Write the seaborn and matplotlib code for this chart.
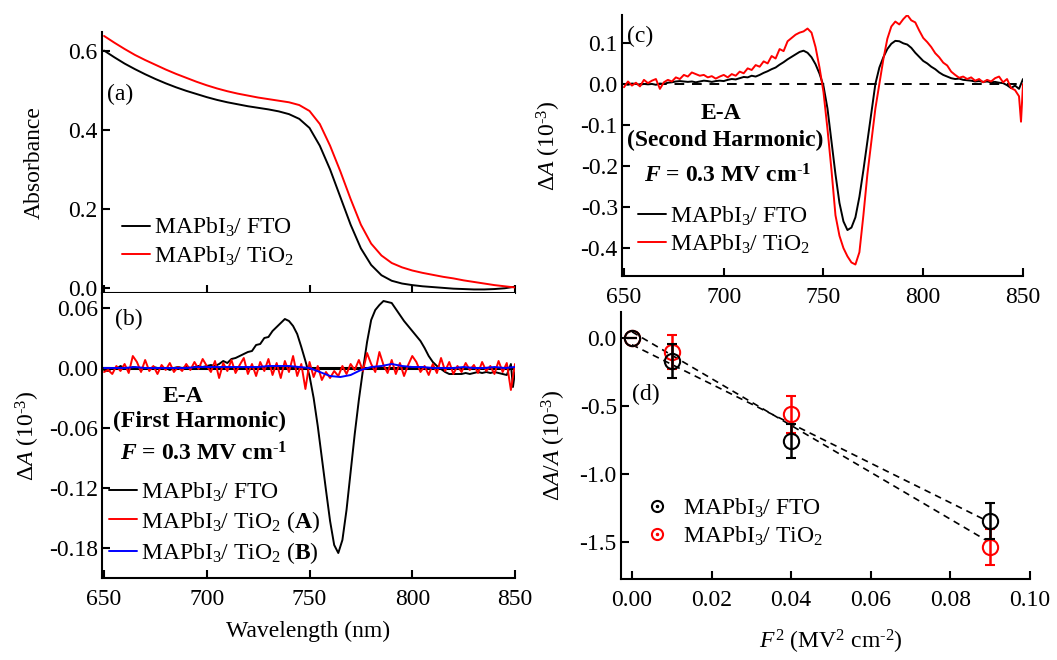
import numpy as np
import pandas as pd
import matplotlib
matplotlib.use('Agg')
import matplotlib.pyplot as plt
import seaborn as sns
from matplotlib.ticker import FormatStrFormatter, MultipleLocator
from matplotlib.lines import Line2D

# ---------------- data ----------------
# (a) absorbance, 5 nm grid
wl_a = np.arange(650, 851, 5)
abs_fto = [0.601, 0.584, 0.568, 0.554, 0.541, 0.529, 0.518, 0.508, 0.499, 0.491,
           0.483, 0.476, 0.470, 0.465, 0.460, 0.456, 0.452, 0.447, 0.440, 0.428,
           0.405, 0.360, 0.300, 0.230, 0.160, 0.100, 0.058, 0.032, 0.018, 0.011,
           0.007, 0.004, 0.002, 0.000, -0.002, -0.003, -0.004, -0.004, -0.003, -0.001,
           0.003]
abs_tio2 = [0.638, 0.621, 0.605, 0.590, 0.577, 0.565, 0.553, 0.542, 0.532, 0.522,
            0.513, 0.505, 0.498, 0.492, 0.487, 0.482, 0.478, 0.474, 0.470, 0.463,
            0.448, 0.415, 0.360, 0.295, 0.225, 0.160, 0.112, 0.082, 0.063, 0.052,
            0.044, 0.038, 0.033, 0.028, 0.024, 0.019, 0.015, 0.011, 0.007, 0.004,
            0.001]

# (b) first harmonic
wl_b_fto = list(range(650, 849, 2)) + [849, 850]
b_fto = [-0.002, -0.003, 0.000, -0.001, 0.002, 0.000, -0.001, 0.001, 0.000, -0.002,
         0.000, -0.001, 0.001, 0.000, -0.001, 0.000, -0.002, 0.000, 0.001, 0.000,
         0.001, 0.000, 0.001, 0.002, 0.001, 0.002, 0.003, 0.002, 0.004, 0.007,
         0.005, 0.009, 0.010, 0.012, 0.014, 0.016, 0.017, 0.023, 0.024, 0.030,
         0.031, 0.037, 0.041, 0.045, 0.049, 0.047, 0.042, 0.034, 0.021, 0.007,
         -0.008, -0.030, -0.058, -0.090, -0.122, -0.153, -0.177, -0.185, -0.172, -0.142,
         -0.104, -0.066, -0.032, -0.002, 0.026, 0.048, 0.058, 0.063, 0.067, 0.066,
         0.065, 0.059, 0.053, 0.047, 0.042, 0.037, 0.032, 0.027, 0.020, 0.012,
         0.006, 0.002, -0.001, -0.004, -0.006, -0.006, -0.006, -0.006, -0.005, -0.006,
         -0.005, -0.004, -0.005, -0.004, -0.005, -0.004, -0.005, -0.006, -0.007, 0.004,
         -0.019, -0.004]
wl_b_tio2a = list(range(650, 851, 2))
b_tio2a = [-0.004, -0.002, -0.006, 0.002, -0.003, 0.004, -0.005, 0.012, 0.006, -0.004,
           0.008, -0.003, 0.002, -0.006, 0.003, -0.002, 0.005, -0.004, 0.001, -0.003,
           0.004, -0.002, 0.006, -0.001, 0.009, 0.002, -0.004, 0.007, -0.010, 0.005,
           -0.003, 0.008, -0.005, 0.003, 0.010, -0.006, 0.004, -0.008, 0.006, -0.003,
           0.009, -0.007, 0.005, -0.010, 0.007, -0.004, 0.012, -0.008, 0.004, -0.021,
           0.006, -0.009, 0.002, -0.012, -0.004, -0.010, -0.003, -0.008, 0.002, -0.006,
           0.004, -0.002, 0.008, -0.003, 0.015, 0.004, -0.004, 0.016, 0.003, -0.005,
           0.008, -0.006, 0.005, -0.008, 0.003, 0.012, 0.006, -0.004, 0.002, -0.007,
           0.004, -0.005, 0.010, -0.003, 0.006, -0.006, 0.002, -0.004, 0.005, -0.002,
           0.003, -0.005, 0.006, -0.003, 0.002, -0.006, 0.007, -0.004, 0.005, -0.022,
           0.004]
wl_b_tio2b = list(range(650, 851, 5))
b_tio2b = [0.000, 0.000, 0.000, 0.001, 0.000, 0.000, 0.000, 0.000, 0.000, 0.001,
           0.001, 0.001, 0.001, 0.001, 0.001, 0.001, 0.002, 0.002, 0.002, 0.001,
           0.000, -0.004, -0.008, -0.009, -0.007, -0.002, 0.001, 0.002, 0.004, 0.002,
           0.001, 0.001, 0.000, 0.000, 0.000, 0.001, 0.000, 0.000, 0.001, 0.000,
           0.001]

# (c) second harmonic
wl_c_fto = list(range(650, 851, 2))
c_fto = [0.000, -0.002, 0.001, 0.000, -0.002, 0.000, -0.001, 0.000, -0.002, 0.001,
         0.000, 0.003, 0.004, 0.006, 0.007, 0.006, 0.005, 0.006, 0.004, 0.006,
         0.008, 0.007, 0.005, 0.007, 0.008, 0.007, 0.010, 0.012, 0.011, 0.014,
         0.017, 0.016, 0.020, 0.018, 0.022, 0.027, 0.031, 0.036, 0.040, 0.047,
         0.053, 0.060, 0.066, 0.072, 0.078, 0.081, 0.076, 0.065, 0.048, 0.025,
         -0.005, -0.060, -0.140, -0.220, -0.290, -0.335, -0.356, -0.350, -0.325, -0.275,
         -0.210, -0.140, -0.070, 0.000, 0.040, 0.065, 0.085, 0.098, 0.105, 0.104,
         0.099, 0.096, 0.088, 0.076, 0.066, 0.056, 0.050, 0.042, 0.036, 0.028,
         0.022, 0.018, 0.014, 0.012, 0.013, 0.010, 0.009, 0.008, 0.006, 0.007,
         0.005, 0.006, 0.004, 0.005, 0.003, 0.002, -0.003, -0.010, -0.004, -0.012,
         0.012]
wl_c_tio2 = list(range(650, 849, 2)) + [849, 850]
c_tio2 = [-0.008, 0.006, -0.004, 0.003, -0.006, 0.010, 0.002, 0.008, 0.012, -0.012,
          0.004, 0.010, 0.006, 0.016, 0.012, 0.022, 0.018, 0.028, 0.024, 0.020,
          0.022, 0.016, 0.019, 0.013, 0.018, 0.022, 0.016, 0.024, 0.020, 0.030,
          0.026, 0.038, 0.034, 0.046, 0.042, 0.055, 0.050, 0.068, 0.062, 0.085,
          0.080, 0.104, 0.112, 0.120, 0.125, 0.128, 0.135, 0.125, 0.090, 0.040,
          -0.020, -0.110, -0.210, -0.320, -0.370, -0.400, -0.420, -0.435, -0.440, -0.410,
          -0.320, -0.220, -0.140, -0.060, 0.000, 0.060, 0.110, 0.140, 0.152, 0.145,
          0.158, 0.168, 0.155, 0.150, 0.130, 0.112, 0.102, 0.090, 0.075, 0.065,
          0.052, 0.045, 0.030, 0.022, 0.015, 0.018, 0.012, 0.016, 0.008, 0.012,
          0.004, 0.010, 0.006, 0.014, 0.018, 0.004, 0.012, -0.010, -0.015, -0.030,
          -0.092, 0.000]

# (d) field dependence
f2 = [0.00, 0.01, 0.04, 0.09]
d_fto = [0.00, -0.167, -0.76, -1.345]
d_fto_err = [0.0, 0.125, 0.125, 0.13]
d_tio2 = [0.00, -0.105, -0.56, -1.535]
d_tio2_err = [0.0, 0.125, 0.135, 0.13]
fit_range = [0.0, 0.089]
fit_fto = (-14.5, -0.05)     # slope, intercept
fit_tio2 = (-17.2, 0.045)

lab_fto = r'MAPbI$_3$/ FTO'
lab_tio2 = r'MAPbI$_3$/ TiO$_2$'

# ---------------- style ----------------
sns.set_style('ticks')
FS = 17
plt.rcParams.update({
    'font.family': ['Liberation Serif', 'DejaVu Serif'],
    'mathtext.fontset': 'custom',
    'mathtext.rm': 'Liberation Serif',
    'mathtext.it': 'Liberation Serif:italic',
    'mathtext.bf': 'Liberation Serif:bold',
    'axes.unicode_minus': False,
    'font.size': FS,
    'axes.labelsize': FS,
    'xtick.labelsize': FS,
    'ytick.labelsize': FS,
    'axes.edgecolor': 'black',
    'xtick.color': 'black',
    'ytick.color': 'black',
    'text.color': 'black',
    'axes.labelcolor': 'black',
})
try:
    plt.rcParams['mathtext.bfit'] = 'Liberation Serif:italic:bold'
    F_TXT = r'$\mathbfit{F}$ = 0.3 MV cm$^{\mathbf{\text{-}1}}$'
except KeyError:
    F_TXT = r'$\mathit{F}$ = 0.3 MV cm$^{\mathbf{\text{-}1}}$'

W, H = 1057, 660
fig = plt.figure(figsize=(W / 100, H / 100), dpi=100)


def rect(l, t, r, b):
    return [l / W, 1 - b / H, (r - l) / W, (b - t) / H]


ax_a = fig.add_axes(rect(102, 32, 515, 293))
ax_b = fig.add_axes(rect(102, 293, 515, 578))
ax_c = fig.add_axes(rect(622, 15, 1023, 276))
ax_d = fig.add_axes(rect(621, 312, 1030, 579))


def style(ax, hide=('top', 'right')):
    for s in ['top', 'right', 'left', 'bottom']:
        ax.spines[s].set_visible(s not in hide)
        ax.spines[s].set_linewidth(1.5)
    ax.tick_params(direction='in', length=6, width=1.5, pad=3)
    ax.tick_params(axis='x', pad=8)


LW = 1.4
leg_kw = dict(frameon=False, fontsize=FS, handlelength=1.2, handletextpad=0.15,
              labelspacing=0.22, borderpad=0, borderaxespad=0)

# ---- (a)
sns.lineplot(x=wl_a, y=abs_fto, ax=ax_a, color='black', lw=LW, label=lab_fto, estimator=None)
sns.lineplot(x=wl_a, y=abs_tio2, ax=ax_a, color='red', lw=LW, label=lab_tio2, estimator=None)
style(ax_a)
ax_a.set_xlim(649, 850)
ax_a.set_ylim(-0.013, 0.648)
ax_a.xaxis.set_major_locator(MultipleLocator(50))
ax_a.yaxis.set_major_locator(MultipleLocator(0.2))
ax_a.yaxis.set_major_formatter(FormatStrFormatter('%.1f'))
ax_a.tick_params(axis='x', labelbottom=False)
ax_a.set_xlabel('')
ax_a.set_ylabel('Absorbance')
ax_a.yaxis.set_label_coords(-0.138, 0.5)
ax_a.text(0.011, 0.739, '(a)', transform=ax_a.transAxes, fontsize=FS, va='baseline')
ax_a.legend(loc='upper left', bbox_to_anchor=(0.048, 0.295), **leg_kw)

# ---- (b)
ax_b.axhline(0, color='black', lw=2.2, zorder=1)
sns.lineplot(x=wl_b_fto, y=b_fto, ax=ax_b, color='black', lw=LW, label=lab_fto, estimator=None)
sns.lineplot(x=wl_b_tio2a, y=b_tio2a, ax=ax_b, color='red', lw=LW,
             label=lab_tio2 + r' ($\mathbf{A}$)', estimator=None)
sns.lineplot(x=wl_b_tio2b, y=b_tio2b, ax=ax_b, color='blue', lw=LW,
             label=lab_tio2 + r' ($\mathbf{B}$)', estimator=None)
style(ax_b)
ax_b.set_xlim(649, 850)
ax_b.set_ylim(-0.210, 0.075)
ax_b.xaxis.set_major_locator(MultipleLocator(50))
ax_b.set_yticks([0.06, 0.0, -0.06, -0.12, -0.18])
ax_b.yaxis.set_major_formatter(FormatStrFormatter('%.2f'))
ax_b.set_xlabel('Wavelength (nm)')
ax_b.xaxis.set_label_coords(0.5, -0.15)
ax_b.set_ylabel(r'Δ$A$ (10$^{\text{-}3}$)')
ax_b.yaxis.set_label_coords(-0.145, 0.5)
ax_b.text(0.031, 0.888, '(b)', transform=ax_b.transAxes, fontsize=FS, va='baseline')
ax_b.text(0.195, 0.619, 'E-A', transform=ax_b.transAxes, fontsize=FS, fontweight='bold',
          ha='center', va='baseline')
ax_b.text(0.235, 0.531, '(First Harmonic)', transform=ax_b.transAxes, fontsize=FS,
          fontweight='bold', ha='center', va='baseline')
ax_b.text(0.246, 0.412, F_TXT, transform=ax_b.transAxes, fontsize=FS, fontweight='bold',
          ha='center', va='baseline')
ax_b.legend(loc='upper left', bbox_to_anchor=(0.017, 0.343), **leg_kw)

# ---- (c)
ax_c.axhline(0, color='black', lw=1.4, ls=(0, (5, 4)), zorder=1)
sns.lineplot(x=wl_c_fto, y=c_fto, ax=ax_c, color='black', lw=LW, label=lab_fto, estimator=None)
sns.lineplot(x=wl_c_tio2, y=c_tio2, ax=ax_c, color='red', lw=LW, label=lab_tio2, estimator=None)
style(ax_c)
ax_c.set_xlim(649, 850)
ax_c.set_ylim(-0.468, 0.168)
ax_c.xaxis.set_major_locator(MultipleLocator(50))
ax_c.set_yticks([0.1, 0.0, -0.1, -0.2, -0.3, -0.4])
ax_c.yaxis.set_major_formatter(FormatStrFormatter('%.1f'))
ax_c.set_xlabel('Wavelength (nm)')
ax_c.xaxis.set_label_coords(0.5, -0.14)
ax_c.set_ylabel(r'Δ$A$ (10$^{\text{-}3}$)')
ax_c.yaxis.set_label_coords(-0.147, 0.5)
ax_c.text(0.012, 0.898, '(c)', transform=ax_c.transAxes, fontsize=FS, va='baseline')
ax_c.text(0.246, 0.601, 'E-A', transform=ax_c.transAxes, fontsize=FS, fontweight='bold',
          ha='center', va='baseline')
ax_c.text(0.257, 0.499, '(Second Harmonic)', transform=ax_c.transAxes, fontsize=FS,
          fontweight='bold', ha='center', va='baseline')
ax_c.text(0.263, 0.358, F_TXT, transform=ax_c.transAxes, fontsize=FS, fontweight='bold',
          ha='center', va='baseline')
ax_c.legend(loc='upper left', bbox_to_anchor=(0.04, 0.275), **leg_kw)

# ---- (d)
fx = np.array(fit_range)
for (slope, icpt) in (fit_fto, fit_tio2):
    sns.lineplot(x=fx, y=icpt + slope * fx, ax=ax_d, color='black', lw=1.2,
                 estimator=None, dashes=False, linestyle=(0, (4, 3)))
ax_d.errorbar(f2, d_tio2, yerr=d_tio2_err, fmt='o', ms=11, mfc='none', mec='red', mew=1.5,
              ecolor='red', elinewidth=1.8, capsize=3.5, capthick=1.8, zorder=3)
ax_d.errorbar(f2, d_fto, yerr=d_fto_err, fmt='o', ms=11, mfc='none', mec='black', mew=1.5,
              ecolor='black', elinewidth=1.8, capsize=3.5, capthick=1.8, zorder=4)
style(ax_d)
ax_d.set_xlim(-0.00275, 0.10)
ax_d.set_ylim(-1.77, 0.19)
ax_d.xaxis.set_major_locator(MultipleLocator(0.02))
ax_d.xaxis.set_major_formatter(FormatStrFormatter('%.2f'))
ax_d.set_yticks([0.0, -0.5, -1.0, -1.5])
ax_d.yaxis.set_major_formatter(FormatStrFormatter('%.1f'))
ax_d.set_xlabel(r'$F^2$ (MV$^2$ cm$^{\text{-}2}$)')
ax_d.xaxis.set_label_coords(0.513, -0.184)
ax_d.set_ylabel(r'Δ$A$/$A$ (10$^{\text{-}3}$)')
ax_d.yaxis.set_label_coords(-0.13, 0.5)
ax_d.text(0.026, 0.67, '(d)', transform=ax_d.transAxes, fontsize=FS, va='baseline')
h_fto = (Line2D([], [], ls='none', marker='o', ms=8, mfc='none', mec='black', mew=1.5),
         Line2D([], [], ls='none', marker='o', ms=1.5, color='black'))
h_tio2 = (Line2D([], [], ls='none', marker='o', ms=8, mfc='none', mec='red', mew=1.5),
          Line2D([], [], ls='none', marker='o', ms=1.5, color='red'))
d_kw = dict(leg_kw)
d_kw.update(handlelength=1.0, handletextpad=0.6)
ax_d.legend([h_fto, h_tio2], [lab_fto, lab_tio2], loc='upper left',
            bbox_to_anchor=(0.06, 0.31), **d_kw)

fig.savefig('out.png', dpi=100)
